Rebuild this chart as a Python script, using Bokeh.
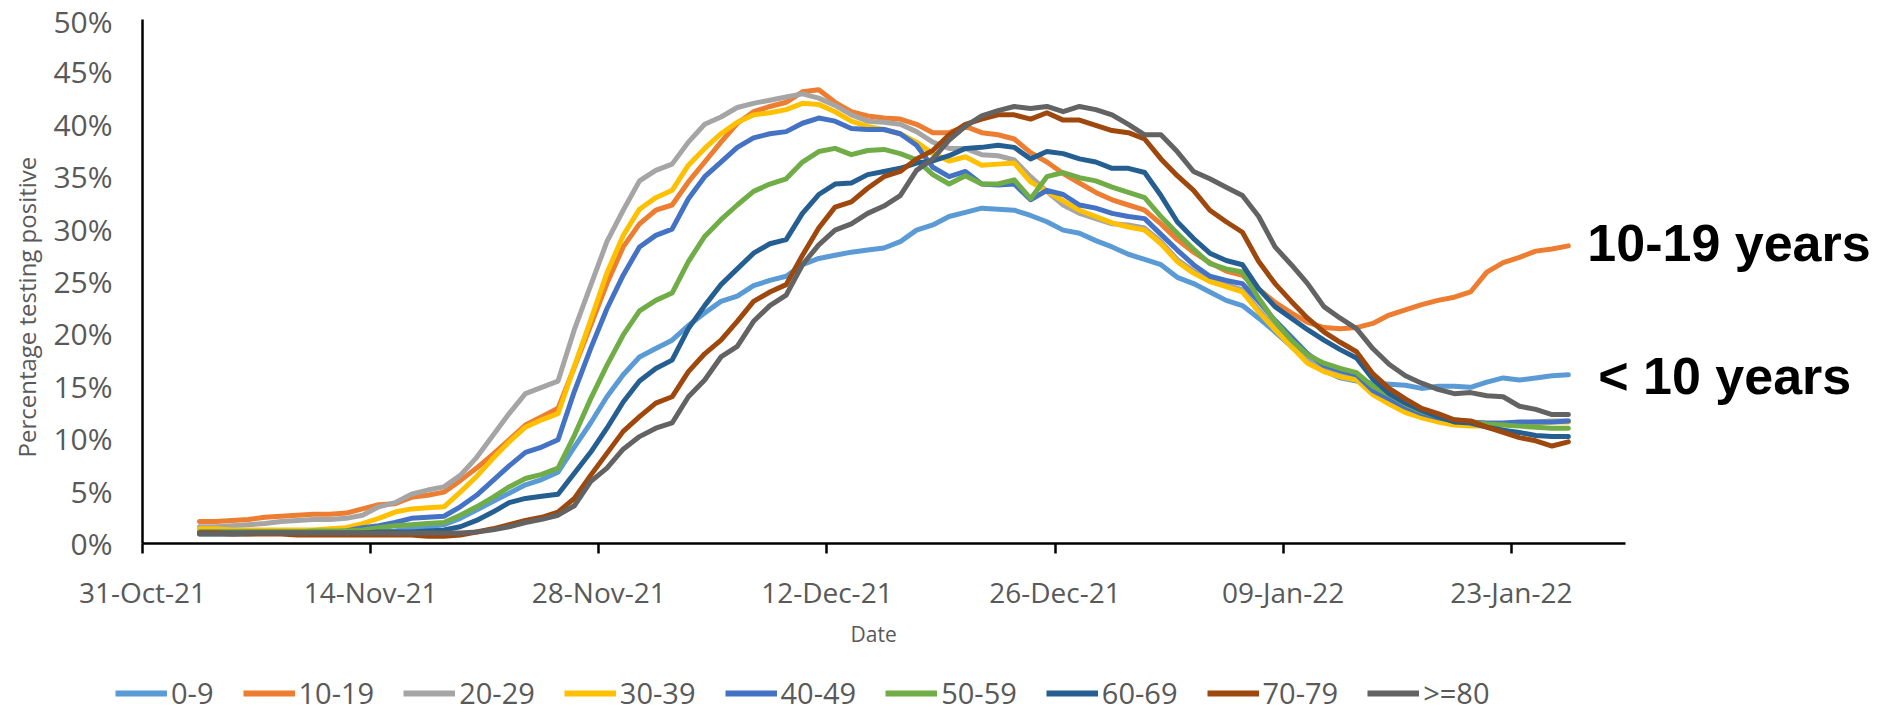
from datetime import datetime, timedelta
from bokeh.plotting import figure
from bokeh.layouts import column
from bokeh.models import (Range1d, FixedTicker, DatetimeTickFormatter, PrintfTickFormatter,
                          Legend, LegendItem, Label, Title)
from bokeh.embed import file_html
from bokeh.resources import INLINE

# ---------------- data ----------------
first_day = datetime(2021, 11, 3, 12)
n_days = 85
dates = [first_day + timedelta(days=i) for i in range(n_days)]

age_groups = ["0-9", "10-19", "20-29", "30-39", "40-49", "50-59", "60-69", "70-79", ">=80"]
colors = ["#5B9BD5", "#ED7D31", "#A5A5A5", "#FFC000", "#4472C4", "#70AD47", "#255E91", "#9E480E", "#636363"]

pos_0_9 = [0.9, 0.9, 0.9, 0.9, 1.0, 1.0, 1.0, 1.0, 1.0, 1.0,
           1.1, 1.1, 1.2, 1.4, 1.6, 1.8, 2.4, 3.2, 4.0, 4.8,
           5.6, 6.1, 6.8, 9.2, 11.5, 14.0, 16.1, 17.8, 18.6, 19.4,
           20.8, 22.0, 23.1, 23.6, 24.6, 25.1, 25.5, 26.6, 27.2, 27.5,
           27.8, 28.0, 28.2, 28.8, 29.9, 30.4, 31.2, 31.6, 32.0, 31.9,
           31.8, 31.3, 30.7, 29.9, 29.6, 28.9, 28.3, 27.6, 27.1, 26.6,
           25.4, 24.8, 24.0, 23.2, 22.7, 21.5, 20.2, 18.8, 17.5, 16.5,
           15.8, 15.5, 15.3, 15.2, 15.1, 14.8, 15.0, 15.0, 14.9, 15.4,
           15.8, 15.6, 15.8, 16.0, 16.1]
pos_10_19 = [2.1, 2.1, 2.2, 2.3, 2.5, 2.6, 2.7, 2.8, 2.8, 2.9,
             3.3, 3.7, 3.8, 4.4, 4.6, 4.9, 6.0, 7.2, 8.5, 9.9,
             11.3, 12.1, 12.9, 16.8, 20.8, 24.8, 28.3, 30.5, 31.8, 32.3,
             34.5, 36.4, 38.3, 40.1, 41.2, 41.7, 42.1, 43.1, 43.3, 42.1,
             41.2, 40.8, 40.6, 40.5, 40.0, 39.2, 39.2, 39.8, 39.2, 39.0,
             38.6, 37.3, 36.4, 35.3, 34.4, 33.5, 32.8, 32.3, 31.8, 30.5,
             29.0, 27.8, 26.8, 26.0, 25.6, 24.3, 23.0, 22.0, 21.1, 20.6,
             20.5, 20.6, 21.0, 21.8, 22.3, 22.8, 23.2, 23.5, 24.0, 25.9,
             26.8, 27.3, 27.9, 28.1, 28.4]
pos_20_29 = [1.6, 1.6, 1.7, 1.8, 1.9, 2.1, 2.2, 2.3, 2.3, 2.4,
             2.7, 3.5, 3.9, 4.7, 5.1, 5.4, 6.5, 8.2, 10.3, 12.4,
             14.3, 14.9, 15.5, 20.4, 24.6, 28.8, 31.8, 34.6, 35.6, 36.2,
             38.3, 40.0, 40.7, 41.6, 42.0, 42.3, 42.6, 42.9, 42.5, 41.8,
             40.9, 40.3, 40.2, 40.0, 39.3, 38.3, 37.7, 37.7, 37.1, 37.0,
             36.6, 35.0, 33.6, 32.3, 31.5, 31.0, 30.5, 30.4, 30.1, 28.8,
             27.1, 26.0, 25.2, 24.7, 24.2, 22.3, 20.6, 19.0, 17.4, 16.6,
             16.1, 15.8, 14.4, 13.6, 12.7, 12.1, 11.7, 11.4, 11.3, 11.3,
             11.4, 11.5, 11.6, 11.7, 11.7]
pos_30_39 = [1.4, 1.4, 1.3, 1.3, 1.3, 1.3, 1.3, 1.3, 1.4, 1.5,
             1.9, 2.4, 3.0, 3.3, 3.4, 3.5, 4.9, 6.4, 8.1, 9.7,
             11.1, 11.8, 12.4, 16.9, 21.3, 25.8, 29.4, 31.9, 33.0, 33.7,
             36.1, 37.7, 39.1, 40.2, 40.9, 41.1, 41.4, 42.0, 41.9, 41.2,
             40.3, 39.8, 39.5, 39.1, 38.3, 37.2, 36.5, 36.9, 36.1, 36.2,
             36.3, 34.5, 33.6, 32.7, 31.8, 31.2, 30.6, 30.2, 29.9, 28.6,
             26.9, 25.8, 25.0, 24.5, 24.0, 22.1, 20.4, 18.8, 17.2, 16.4,
             15.9, 15.6, 14.2, 13.3, 12.5, 12.0, 11.6, 11.3, 11.2, 11.2,
             11.3, 11.4, 11.5, 11.6, 11.6]
pos_40_49 = [1.1, 1.1, 1.1, 1.1, 1.1, 1.1, 1.1, 1.1, 1.1, 1.2,
             1.5, 1.7, 2.0, 2.4, 2.5, 2.6, 3.5, 4.6, 6.0, 7.4,
             8.7, 9.2, 9.9, 14.5, 18.6, 22.4, 25.6, 28.3, 29.4, 30.0,
             32.9, 35.0, 36.4, 37.8, 38.7, 39.1, 39.3, 40.1, 40.6, 40.3,
             39.6, 39.5, 39.5, 39.1, 38.0, 35.9, 35.0, 35.5, 34.3, 34.2,
             34.3, 32.8, 33.7, 33.3, 32.3, 32.0, 31.5, 31.2, 31.0, 29.5,
             28.0, 26.6, 25.5, 25.1, 24.8, 23.1, 21.3, 19.7, 18.1, 17.0,
             16.5, 16.1, 14.6, 13.8, 13.0, 12.4, 12.0, 11.7, 11.6, 11.5,
             11.5, 11.6, 11.6, 11.6, 11.7]
pos_50_59 = [1.1, 1.1, 1.1, 1.1, 1.1, 1.1, 1.1, 1.2, 1.2, 1.2,
             1.3, 1.5, 1.7, 1.8, 1.9, 2.0, 2.7, 3.5, 4.4, 5.4,
             6.2, 6.6, 7.2, 10.3, 13.8, 17.0, 19.9, 22.2, 23.2, 23.9,
             26.9, 29.3, 30.9, 32.3, 33.6, 34.3, 34.8, 36.4, 37.4, 37.7,
             37.1, 37.5, 37.6, 37.2, 36.6, 35.2, 34.3, 35.1, 34.3, 34.3,
             34.7, 32.9, 35.0, 35.4, 34.9, 34.6, 34.0, 33.5, 33.0, 31.2,
             29.6, 28.1, 26.7, 26.2, 25.9, 23.4, 21.2, 19.4, 18.0, 17.2,
             16.7, 16.3, 15.0, 14.2, 13.3, 12.6, 12.1, 11.8, 11.6, 11.4,
             11.3, 11.2, 11.1, 11.0, 11.0]
pos_60_69 = [1.0, 1.0, 1.0, 1.0, 1.0, 1.0, 1.0, 1.0, 1.0, 1.0,
             1.0, 1.1, 1.1, 1.1, 1.2, 1.3, 1.6, 2.2, 3.0, 3.9,
             4.3, 4.5, 4.7, 6.7, 8.7, 11.0, 13.5, 15.5, 16.7, 17.5,
             20.5, 22.7, 24.7, 26.2, 27.7, 28.6, 29.0, 31.5, 33.3, 34.3,
             34.4, 35.2, 35.5, 35.8, 36.3, 36.5, 37.0, 37.7, 37.8, 38.0,
             37.8, 36.7, 37.4, 37.2, 36.7, 36.4, 35.8, 35.8, 35.4, 33.2,
             30.7, 29.1, 27.7, 27.0, 26.6, 24.3, 22.6, 21.5, 20.4, 19.4,
             18.5, 17.7, 15.7, 14.3, 13.4, 12.7, 12.1, 11.6, 11.5, 11.1,
             10.8, 10.6, 10.3, 10.2, 10.2]
pos_70_79 = [1.0, 1.0, 0.9, 0.9, 0.9, 0.9, 0.8, 0.8, 0.8, 0.8,
             0.8, 0.8, 0.8, 0.8, 0.7, 0.7, 0.8, 1.1, 1.4, 1.8,
             2.2, 2.5, 3.0, 4.3, 6.5, 8.6, 10.7, 12.1, 13.4, 14.0,
             16.4, 18.1, 19.4, 21.2, 23.1, 24.0, 24.7, 27.5, 30.1, 32.1,
             32.6, 33.9, 35.0, 35.5, 36.7, 37.5, 39.0, 40.0, 40.5, 40.9,
             40.9, 40.5, 41.1, 40.4, 40.4, 39.9, 39.4, 39.2, 38.6, 36.7,
             35.1, 33.7, 31.8, 30.7, 29.7, 26.9, 24.8, 23.1, 21.5, 20.2,
             19.2, 18.3, 16.2, 14.8, 13.8, 12.9, 12.4, 11.8, 11.7, 11.1,
             10.6, 10.1, 9.8, 9.3, 9.7]
pos_80_plus = [0.9, 0.9, 0.9, 1.0, 1.0, 1.0, 1.0, 1.0, 1.0, 1.0,
               1.0, 1.0, 1.0, 1.0, 1.0, 1.0, 1.0, 1.1, 1.3, 1.6,
               2.0, 2.3, 2.7, 3.6, 5.9, 7.2, 9.0, 10.2, 11.0, 11.5,
               14.0, 15.6, 17.8, 18.8, 21.2, 22.7, 23.7, 26.6, 28.5, 29.9,
               30.5, 31.5, 32.2, 33.2, 35.6, 36.7, 38.5, 39.8, 40.8, 41.3,
               41.7, 41.5, 41.7, 41.2, 41.7, 41.4, 40.9, 40.0, 39.0, 39.0,
               37.4, 35.5, 34.8, 34.0, 33.2, 31.2, 28.3, 26.6, 24.8, 22.6,
               21.5, 20.5, 18.6, 17.1, 16.0, 15.3, 14.7, 14.3, 14.4, 14.1,
               14.0, 13.1, 12.8, 12.3, 12.3]

series = [pos_0_9, pos_10_19, pos_20_29, pos_30_39, pos_40_49,
          pos_50_59, pos_60_69, pos_70_79, pos_80_plus]

x_tick_dates = [datetime(2021, 10, 31), datetime(2021, 11, 14), datetime(2021, 11, 28),
                datetime(2021, 12, 12), datetime(2021, 12, 26), datetime(2022, 1, 9),
                datetime(2022, 1, 23)]
y_ticks = [0, 5, 10, 15, 20, 25, 30, 35, 40, 45, 50]

annotations = [("10-19 years", datetime(2022, 1, 27, 16), 28.7),
               ("< 10 years", datetime(2022, 1, 28, 8), 16.0)]

# ---------------- figure ----------------
def ms(d):
    return (d - datetime(1970, 1, 1)).total_seconds() * 1000.0

FONT = "Open Sans"
GREY_TXT = "#595959"

axis_start = datetime(2021, 10, 31)
axis_end = datetime(2022, 1, 30)
view_end = datetime(2022, 2, 14, 4)   # extra room on the right for the annotations

p = figure(width=1872, height=668, x_axis_type="datetime",
           x_range=Range1d(ms(axis_start), ms(view_end)),
           y_range=Range1d(0, 50),
           output_backend="svg", toolbar_location=None,
           min_border_left=142, min_border_right=0, min_border_top=19, min_border_bottom=125)
p.outline_line_color = None
p.xgrid.visible = False
p.ygrid.visible = False

renderers = []
for name, col, vals in zip(age_groups, colors, series):
    r = p.line(dates, vals, line_width=5, line_color=col, line_join="round", line_cap="round")
    renderers.append((name, r))

# x axis
xa = p.xaxis[0]
xa.bounds = (ms(axis_start), ms(axis_end))
xa.ticker = FixedTicker(ticks=[ms(d) for d in x_tick_dates])
fmt = "%d-%b-%y"
xa.formatter = DatetimeTickFormatter(days=fmt, months=fmt, years=fmt, hours=fmt,
                                     hourmin=fmt, minutes=fmt, minsec=fmt, seconds=fmt,
                                     milliseconds=fmt, microseconds=fmt)
xa.axis_line_color = "black"
xa.axis_line_width = 2.5
xa.major_tick_line_color = "black"
xa.major_tick_line_width = 2.5
xa.major_tick_out = 10
xa.major_tick_in = 0
xa.minor_tick_line_color = None
xa.major_label_standoff = 19
xa.major_label_text_font = FONT
xa.major_label_text_font_size = "28px"
xa.major_label_text_color = GREY_TXT

p.add_layout(Title(text="Date", align="left", offset=708, standoff=8,
                   text_font=FONT, text_font_size="21px",
                   text_font_style="normal", text_color=GREY_TXT), "below")

# y axis
ya = p.yaxis[0]
ya.ticker = FixedTicker(ticks=y_ticks)
ya.formatter = PrintfTickFormatter(format="%d%%")
ya.axis_line_color = "black"
ya.axis_line_width = 2.5
ya.major_tick_line_color = None
ya.major_tick_out = 0
ya.major_tick_in = 0
ya.minor_tick_line_color = None
ya.major_label_standoff = 30
ya.major_label_text_font = FONT
ya.major_label_text_font_size = "30px"
ya.major_label_text_color = GREY_TXT

p.add_layout(Title(text="Percentage testing positive", align="left", offset=86,
                   standoff=15, text_font=FONT, text_font_size="24px",
                   text_font_style="normal", text_color=GREY_TXT), "left")

for txt, d, yv in annotations:
    p.add_layout(Label(x=ms(d), y=yv, text=txt, text_font="Liberation Sans",
                       text_font_style="bold", text_font_size="52px", text_color="black",
                       text_align="left", text_baseline="middle"))

# legend strip below the chart
pl = figure(width=1872, height=44, x_range=Range1d(0, 1), y_range=Range1d(0, 1),
            x_axis_location=None, y_axis_location=None,
            output_backend="svg", toolbar_location=None, min_border=0)
try:
    pl.frame_align = False
except Exception:
    pass
pl.outline_line_color = None
pl.xgrid.visible = False
pl.ygrid.visible = False
leg_items = []
for name, col in zip(age_groups, colors):
    r = pl.line([0.5], [float("nan")], line_width=6, line_color=col)
    leg_items.append(LegendItem(label=name, renderers=[r]))
legend = Legend(items=leg_items, orientation="horizontal", location=(115, 0),
                glyph_width=52, glyph_height=20, label_standoff=4, spacing=29,
                padding=0, margin=0, border_line_color=None, background_fill_alpha=0,
                label_text_font=FONT, label_text_font_size="29px", label_text_color=GREY_TXT)
pl.add_layout(legend)

layout = column(p, pl, spacing=0)
open("out.html", "w").write(file_html(layout, INLINE))
